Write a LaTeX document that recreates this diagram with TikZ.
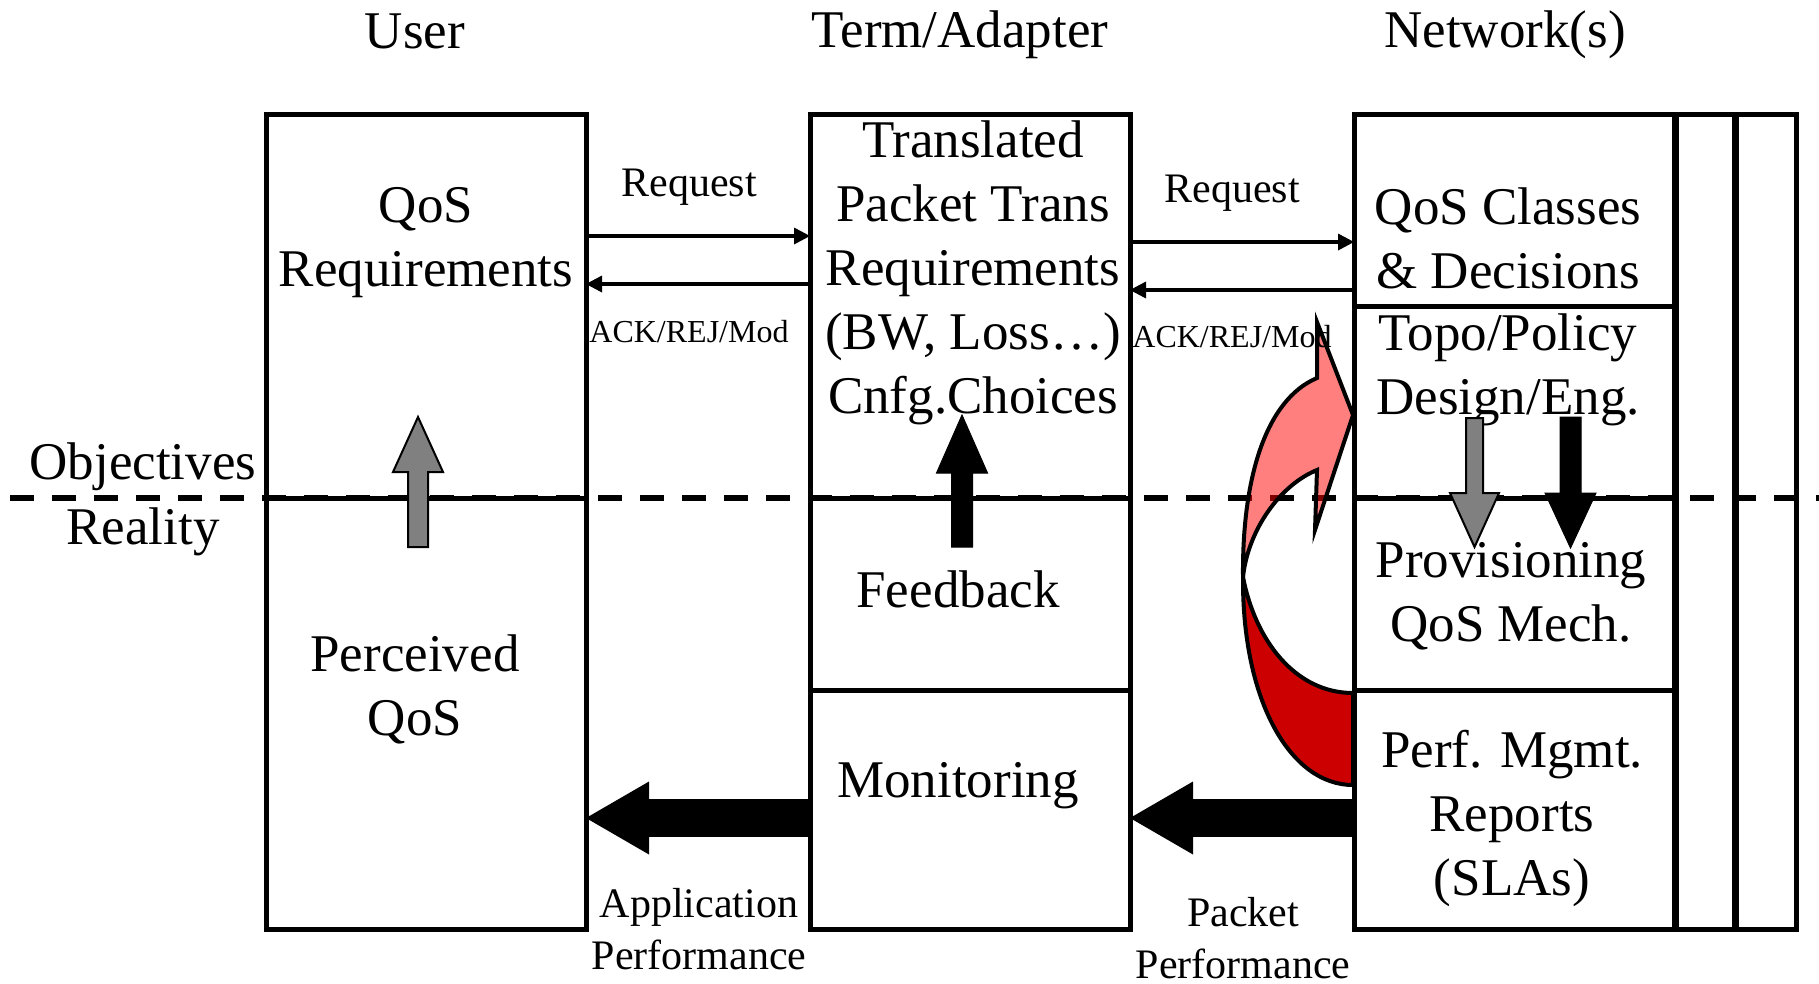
\documentclass[tikz,border=0pt]{standalone}
\usepackage{fontspec}
\setmainfont{Liberation Serif}
\usetikzlibrary{arrows.meta}
\definecolor{deepred}{RGB}{204,0,0}
\definecolor{midgray}{RGB}{128,128,128}

\begin{document}
\begin{tikzpicture}[x=1pt,y=-1pt,
  panel/.style={draw, line width=5pt, inner sep=0pt, outer sep=0pt, anchor=north west,
                minimum width=320pt, minimum height=815pt},
  strip/.style={draw, line width=5pt, inner sep=0pt, outer sep=0pt, anchor=north west,
                minimum height=815pt},
  divider/.style={line width=5pt},
  bigtext/.style={font=\fontsize{53}{64}\selectfont, align=center, inner sep=0pt},
  midtext/.style={font=\fontsize{42}{52}\selectfont, align=center, inner sep=0pt},
  smalltext/.style={font=\fontsize{32}{38}\selectfont, align=center, inner sep=0pt},
  msgarrow/.style={line width=4pt, -{Triangle[length=16pt,width=17pt,line width=0pt]}},
  blockarrow/.style={line width=38pt, -{Triangle[length=63pt,width=73pt,line width=0pt]}},
  grayicon/.style={fill=midgray, draw=black, line width=2pt, line join=miter},
  blackicon/.style={fill=black, draw=black, line width=1pt},
  boundary/.style={line width=5.5pt, dash pattern=on 24pt off 18pt}
]
\useasboundingbox (0,0) rectangle (1819,983);

% rows used by the dividers and connectors
\coordinate (rowObj) at (0,498);
\coordinate (rowTop) at (0,306);
\coordinate (rowMid) at (0,690);
\coordinate (reqA) at (0,236);
\coordinate (ackA) at (0,284);
\coordinate (reqB) at (0,242);
\coordinate (ackB) at (0,290);
\coordinate (perf) at (0,818);
\coordinate (lineStart) at (10,498);
\coordinate (lineEnd) at (1819,498);

% objectives / reality boundary
\draw[boundary] (lineStart) -- (lineEnd);

% feedback loop in the network column
\filldraw[fill=deepred, draw=black, line width=4pt, line join=round]
  (1243,577) .. controls (1242,700) and (1290,785) .. (1353,785)
  -- (1353,693) .. controls (1295,693) and (1255,640) .. (1243,577) -- cycle;
\filldraw[fill=red, fill opacity=0.5, draw=black, line width=4pt, line join=miter]
  (1317,378) -- (1317,322) -- (1353,415) -- (1315,530) -- (1317,470)
  .. controls (1280,485) and (1248,530) .. (1243,577)
  .. controls (1242,480) and (1265,400) .. (1317,378) -- cycle;

% columns
\node[panel] (user) at (266,114) {};
\node[panel] (term) at (810,114) {};
\node[panel] (net) at (1354,114) {};
\node[strip, minimum width=58pt] (stripA) at (1676,114) {};
\node[strip, minimum width=60pt] (stripB) at (1736,114) {};

% section dividers
\draw[divider] (user.west |- rowObj) -- (user.east |- rowObj);
\draw[divider] (term.west |- rowObj) -- (term.east |- rowObj);
\draw[divider] (term.west |- rowMid) -- (term.east |- rowMid);
\draw[divider] (net.west |- rowTop) -- (net.east |- rowTop);
\draw[divider] (net.west |- rowObj) -- (net.east |- rowObj);
\draw[divider] (net.west |- rowMid) -- (net.east |- rowMid);

% column headings
\node[bigtext] (hUser) at (415,31) {User};
\node[bigtext] (hTerm) at (960,35) {Term/Adapter};
\node[bigtext] (hNet) at (1505,35) {Network(s)};

% side labels
\node[bigtext] (tObj) at (143,467) {Objectives};
\node[bigtext] (tReal) at (143,532) {Reality};

% user column
\node[bigtext] (tQoSReq) at (426,243) {QoS\\Requirements};
\node[bigtext] (tPerc) at (415,689) {Perceived\\QoS};

% terminal / adapter column
\node[bigtext] (tTrans) at (973,273) {Translated\\Packet Trans\\Requirements\\(BW, Loss…)\\Cnfg.Choices};
\node[bigtext] (tFeed) at (958,589) {Feedback};
\node[bigtext] (tMon) at (958,786) {Monitoring};

% network column
\node[bigtext] (tClasses) at (1508,238) {QoS Classes\\\& Decisions};
\node[bigtext] (tTopo) at (1508,370) {Topo/Policy\\Design/Eng.};
\node[bigtext] (tProv) at (1511,596) {Provisioning\\QoS Mech.};
\node[bigtext] (tPerf) at (1512,818) {Perf. Mgmt.\\Reports\\(SLAs)};

% request / response messages
\draw[msgarrow] (user.east |- reqA) -- (term.west |- reqA);
\draw[msgarrow] (term.west |- ackA) -- (user.east |- ackA);
\draw[msgarrow] (term.east |- reqB) -- (net.west |- reqB);
\draw[msgarrow] (net.west |- ackB) -- (term.east |- ackB);
\node[midtext] (lReq1) at (689,187) {Request};
\node[smalltext] (lAck1) at (689,332) {ACK/REJ/Mod};
\node[midtext] (lReq2) at (1232,193) {Request};
\node[smalltext] (lAck2) at (1232,337) {ACK/REJ/Mod};

% performance reporting
\draw[blockarrow] (term.west |- perf) -- (user.east |- perf);
\draw[blockarrow] (net.west |- perf) -- (term.east |- perf);
\node[midtext] (lApp) at (699,929) {Application\\Performance};
\node[midtext] (lPkt) at (1243,938) {Packet\\Performance};

% direction markers
\filldraw[grayicon] (408,547) -- (408,472) -- (393,472) -- (418,417) -- (443,472) -- (428,472) -- (428,547) -- cycle;
\filldraw[blackicon] (951.5,547) -- (951.5,473) -- (936.5,473) -- (962,415) -- (987.5,473) -- (972.5,473) -- (972.5,547) -- cycle;
\filldraw[grayicon] (1466,418) -- (1466,493) -- (1450,493) -- (1474.5,547) -- (1499,493) -- (1483,493) -- (1483,418) -- cycle;
\filldraw[blackicon] (1560,417) -- (1560,493) -- (1545,493) -- (1570.5,548) -- (1596,493) -- (1581,493) -- (1581,417) -- cycle;
\end{tikzpicture}
\end{document}
